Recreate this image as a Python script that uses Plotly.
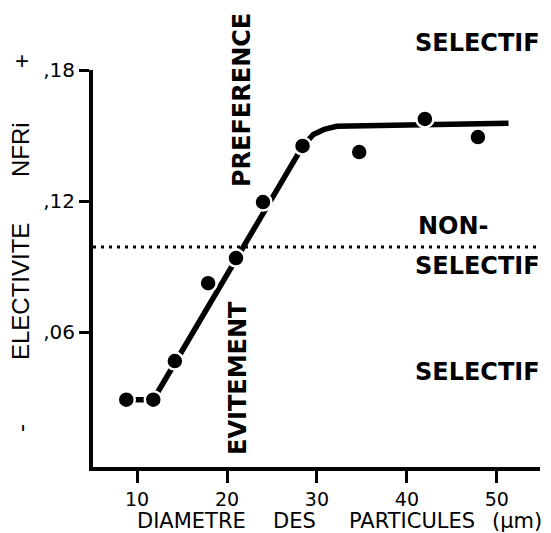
import plotly.graph_objects as go

# observed points
diam = [8.8, 11.8, 14.2, 17.9, 21.0, 24.0, 28.4, 34.7, 42.0, 47.9]
nfri = [0.029, 0.029, 0.0467, 0.0824, 0.0939, 0.1195, 0.1452, 0.1424, 0.1576, 0.1493]

# fitted curve
fit_left_x = [8.8, 11.8]
fit_left_y = [0.029, 0.029]
fit_x = [11.8, 28.4, 29.6, 30.8, 32.2, 51.3]
fit_y = [0.029, 0.145, 0.1505, 0.1528, 0.1542, 0.1556]

# neutral (non-selective) level
neutral_y = 0.099
neutral_x = [5.1, 54.6]

x_ticks = [10, 20, 30, 40, 50]
y_ticks = [0.06, 0.12, 0.18]
y_ticktext = [",06", ",12", ",18"]
x_title_words = ["DIAMETRE", "DES", "PARTICULES", "(µm)"]

AX_FONT = "Liberation Sans"
BOLD_FONT = "DejaVu Sans"

fig = go.Figure()
fig.add_trace(go.Scatter(x=neutral_x, y=[neutral_y, neutral_y], mode="lines",
                         line=dict(color="black", width=3, dash="3px,5px"),
                         showlegend=False, hoverinfo="skip"))
fig.add_trace(go.Scatter(x=fit_left_x, y=fit_left_y, mode="lines",
                         line=dict(color="black", width=5.5), showlegend=False))
fig.add_trace(go.Scatter(x=fit_x, y=fit_y, mode="lines",
                         line=dict(color="black", width=5.5), showlegend=False))
fig.add_trace(go.Scatter(x=diam, y=nfri, mode="markers",
                         marker=dict(color="black", size=17,
                                     line=dict(color="white", width=2.5)),
                         showlegend=False))

W, H = 551, 533
L, R, T, B = 93, 11, 70, 66
pw, ph = W - L - R, H - T - B

def px(xp):
    return (xp - L) / pw

def py(yp):
    return (H - B - yp) / ph

ann = []
def add(text, xp, yp, size, font, angle=0, bold=False, xanchor="center"):
    ann.append(dict(text=text, x=px(xp), y=py(yp), xref="paper", yref="paper",
                    xanchor=xanchor, yanchor="middle", showarrow=False,
                    textangle=angle,
                    font=dict(family=font, size=size, color="black",
                              weight="bold" if bold else "normal")))

add("ELECTIVITE", 20, 292, 24, AX_FONT, angle=-90)
add("NFRi", 20, 150, 24, AX_FONT, angle=-90)
add("+", 22, 60, 24, AX_FONT)
add("-", 20, 428, 24, AX_FONT, angle=-90)
for word, cx in zip(x_title_words, [191, 294, 412, 517]):
    add(word, cx, 521, 21, "DejaVu Sans")
add("PREFERENCE", 242, 100, 24, BOLD_FONT, angle=-90, bold=True)
add("EVITEMENT", 238, 378, 24, BOLD_FONT, angle=-90, bold=True)
add("SELECTIF", 477, 43, 24, BOLD_FONT, bold=True)
add("NON-", 416, 226, 24, BOLD_FONT, bold=True, xanchor="left")
add("SELECTIF", 477, 266, 24, BOLD_FONT, bold=True)
add("SELECTIF", 477, 372, 24, BOLD_FONT, bold=True)

fig.update_layout(
    width=W, height=H,
    margin=dict(l=L, r=R, t=T, b=B),
    plot_bgcolor="white", paper_bgcolor="white",
    annotations=ann,
    xaxis=dict(range=[5.1, 54.8], tickvals=x_ticks, ticks="outside", ticklen=12,
               tickwidth=3, tickcolor="black", showline=True, linewidth=4,
               linecolor="black", showgrid=False, zeroline=False,
               tickfont=dict(family="DejaVu Sans", size=19, color="black")),
    yaxis=dict(range=[-0.0018, 0.18], tickvals=y_ticks, ticktext=y_ticktext,
               ticks="outside", ticklen=10, tickwidth=3, tickcolor="black",
               showline=True, linewidth=4, linecolor="black", showgrid=False,
               zeroline=False,
               tickfont=dict(family="DejaVu Sans", size=20, color="black")),
)

fig.write_html("out.html")
